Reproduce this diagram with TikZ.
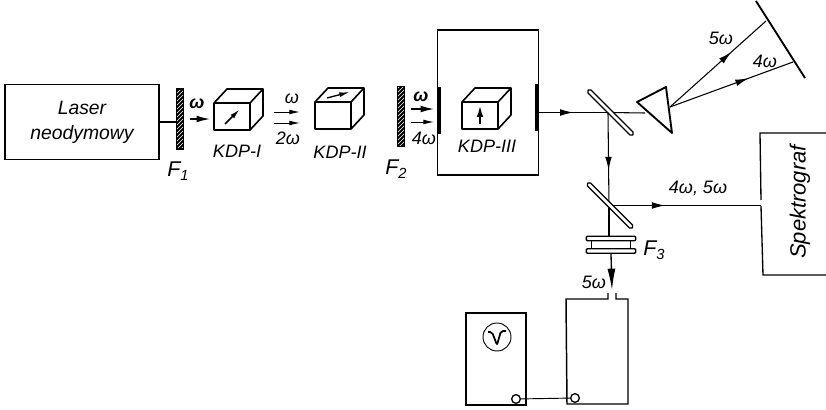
\documentclass[tikz,border=0pt]{standalone}
\usepackage{fontspec}
\setmainfont{Liberation Sans}
\usepackage{xcolor}
\usetikzlibrary{arrows.meta,patterns,decorations.markings,calc}

\begin{document}
\begin{tikzpicture}[
  x=0.75pt, y=-0.75pt,
  every node/.style = {font=\fontsize{13.5}{15}\selectfont\itshape, inner sep=0pt},
  box/.style    = {draw, line width=1.1pt},
  filtr/.style  = {draw, line width=0.8pt, pattern=north east lines, pattern color=white,
                   preaction={fill=black}, minimum width=5.5pt, minimum height=45pt},
  okno/.style   = {fill=black, minimum width=2.6pt, minimum height=35pt},
  plytka/.style = {draw, fill=white, line width=1pt, rounded corners=1.2pt,
                   minimum width=47pt, minimum height=3.2pt, rotate=-45},
  soczewka/.style = {draw, fill=white, line width=1pt, rounded corners=0.8pt,
                   minimum width=37pt, minimum height=3.4pt},
  wyj/.style    = {draw, fill=white, circle, line width=1pt, minimum size=6.5pt},
  fsub/.style   = {font=\fontsize{16}{16}\selectfont\itshape},
  arr/.style    = {-{Latex[length=10pt,width=5pt]}, line width=0.9pt},
  arrs/.style   = {-{Latex[length=8pt,width=3.6pt]}, line width=0.7pt},
  beam/.style   = {line width=0.8pt},
  flow/.style   = {postaction={decorate}, decoration={markings,
                   mark=at position #1 with {\arrow{Latex[length=10pt,width=5pt]}}}},
  cube/.pic     = {\draw[line width=1.2pt, line join=round]
                   (0,0) rectangle (36,27) (0,0) -- (13,-14) -- (49,-14) -- (36,0)
                   (49,-14) -- (49,13) -- (36,27);},
]
\useasboundingbox (0,0) rectangle (826,410);

%% ---------- LASER + KDP-I ----------
\node[box, minimum width=115.5pt, minimum height=56.5pt] (laser) at (82,122)
  {\fontsize{14.5}{19}\selectfont\itshape\begin{tabular}{@{}c@{}}Laser\\neodymowy\end{tabular}};
\node[filtr] (F1) at (180,119) {};
\node[fsub] (LF1) at (178,171) {F\raisebox{-3pt}{\fontsize{11}{11}\selectfont 1}};
\draw[beam] (laser.east) -- (laser.east -| F1.west);

\pic at (214,103) {cube};
\draw[arrs, line width=1.2pt] (225,124) -- (240,109);
\node (LK1) at (237,151) {KDP-I};
\node (w1) at (197,104) {\bfseries ω};
\coordinate (a1) at (190,119);
\coordinate (a2) at (210,119);
\draw[arr] (a1) -- (a2);

%% ---------- KDP-II ----------
\coordinate (b1) at (274,112);
\coordinate (b2) at (300,112);
\coordinate (b3) at (274,123);
\coordinate (b4) at (300,123);
\draw[arrs] (b1) -- (b2);
\draw[arrs] (b3) -- (b4);
\node (w2) at (292,99) {ω};
\node (w3) at (288,138) {2ω};

\pic at (315,102) {cube};
\draw[arrs, line width=1pt] (327,98) -- (350,92);
\node (LK2) at (340,152) {KDP-II};

%% ---------- KDP-III ----------
\node[filtr] (F2) at (401,116.5) {};
\node[fsub] (LF2) at (396,169) {F\raisebox{-3pt}{\fontsize{11}{11}\selectfont 2}};
\coordinate (c1) at (411,109);
\coordinate (c2) at (434,109);
\coordinate (c3) at (411,122);
\coordinate (c4) at (434,122);
\draw[arr] (c1) -- (c2);
\draw[arrs] (c3) -- (c4);
\node (w4) at (421,97) {\bfseries ω};
\node (w5) at (424,138) {4ω};

\node[box, minimum width=75.5pt, minimum height=108.5pt] (piec) at (488,102.5) {};
\node[okno] (O1) at (439,110.5) {};
\node[okno] (O2) at (537,107.5) {};
\pic at (462,102) {cube};
\draw[-{Latex[length=9pt,width=5pt]}, line width=1.6pt] (480,124) -- (480,105);
\node (LK3) at (487,146) {KDP-III};

%% ---------- PRYZMAT + SIATKA ----------
\coordinate (pa) at (637,102);
\coordinate (pb) at (666,87);
\coordinate (pc) at (672,133);
\coordinate (pw) at (645,113);
\coordinate (pe) at (670,107);
\coordinate (p0) at (608,112.5);
\draw[beam, flow=0.5] (O2.east |- p0) -- (p0);
\draw[beam] (p0) -- (pw);
\node[plytka] (P1) at (610.5,112.5) {};
\draw[line width=1.4pt, line join=round] (pa) -- (pb) -- (pc) -- cycle;

\coordinate (g1) at (756,1);
\coordinate (g2) at (805,78);
\coordinate (g5) at (766,21);
\coordinate (g4) at (793,62);
\draw[line width=1.4pt] (g1) -- (g2);
\draw[beam, flow=0.64] (pe) -- (g5);
\draw[beam, flow=0.64] (pe) -- (g4);
\node (w6) at (721,38) {5ω};
\node (w7) at (765,61) {4ω};

%% ---------- SPEKTROGRAF ----------
\coordinate (s1) at (826,133);
\coordinate (s2) at (760,133);
\coordinate (s3) at (761,200);
\coordinate (s4) at (761,206);
\coordinate (s5) at (763,275);
\coordinate (s6) at (826,275);
\draw[line width=1pt] (s1) -- (s2) -- (s3) (s4) -- (s5) -- (s6);
\node[rotate=90, font=\fontsize{16.5}{16}\selectfont\itshape] (spek) at (800,202) {Spektrograf};

\coordinate (p1) at (609,205.5);
\draw[beam, flow=0.62] (p0) -- (p1);
\draw[beam, flow=0.37] (p1) -- (s3 |- p1);
\node (w8) at (698,188) {4ω, 5ω};

%% ---------- F3 + DETEKTOR ----------
\node[soczewka] (F3a) at (611,238.5) {};
\node[soczewka] (F3b) at (611,251) {};
\draw[line width=1.1pt] ($(F3a.south west)+(6,0)$) -- ($(F3b.north west)+(6,0)$);
\draw[line width=1.1pt] ($(F3a.south east)+(-6,0)$) -- ($(F3b.north east)+(-6,0)$);
\draw[beam] (p1) -- (F3a.north -| p1);
\node[plytka] (P2) at (610,205.5) {};
\node[fsub] (LF3) at (654,250) {F\raisebox{-3pt}{\fontsize{11}{11}\selectfont 3}};
\coordinate (t1) at (608,293);
\coordinate (t2) at (608,299);
\coordinate (t3) at (566,299);
\coordinate (t4) at (567,404);
\coordinate (t5) at (628,404);
\coordinate (t6) at (628,299);
\coordinate (t7) at (616,299);
\coordinate (t8) at (616,293);
\draw[line width=1.1pt] (t1) -- (t2) -- (t3) -- (t4) -- (t5) -- (t6) -- (t7) -- (t8);
\coordinate (d1) at (612,290);
\draw[-{Latex[length=16pt,width=6pt]}, line width=1pt] (F3b.south) -- (d1);
\node (w9) at (594,282) {5ω};

\node[box, minimum width=45pt, minimum height=69pt] (osc) at (496,359) {};
\node[draw, circle, line width=0.7pt, minimum size=21pt] (ekran) at (497,337) {};
\draw[line width=1.3pt, rounded corners=1.5pt] (488,332) -- (492,332) -- (497,345) -- (501,331) -- (506,331);
\node[wyj] (W1) at (516,399) {};
\node[wyj] (W2) at (575,398) {};
\draw[line width=0.7pt] (W1) -- (W2);

\end{tikzpicture}
\end{document}
